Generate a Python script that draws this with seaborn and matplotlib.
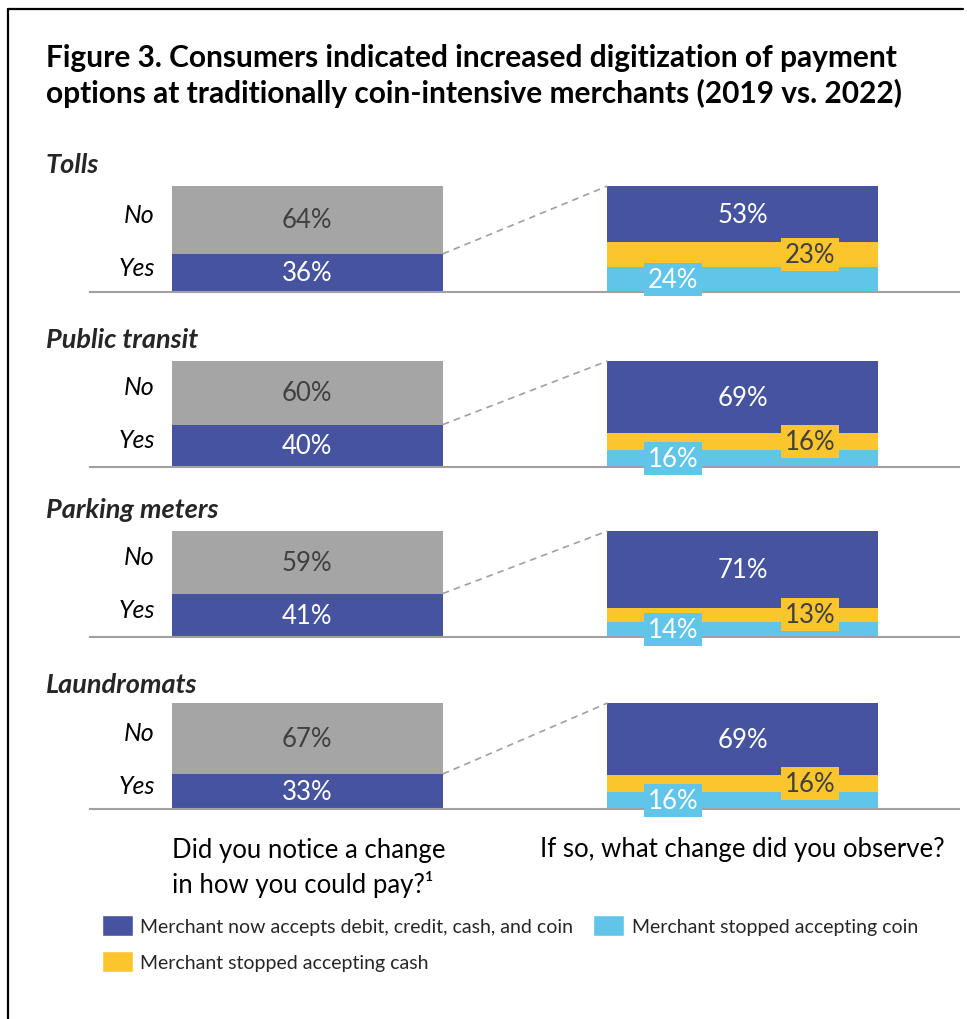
import matplotlib
matplotlib.use("Agg")
import matplotlib.pyplot as plt
from matplotlib.lines import Line2D
from matplotlib.patches import Patch
import pandas as pd
import seaborn as sns

# values
merchants = ["Tolls", "Public transit", "Parking meters", "Laundromats"]
noticed_no = [64, 60, 59, 67]
noticed_yes = [36, 40, 41, 33]
accepts_all = [53, 69, 71, 69]
stopped_cash = [23, 16, 13, 16]
stopped_coin = [24, 16, 14, 16]

title = ("Figure 3. Consumers indicated increased digitization of payment\n"
         "options at traditionally coin-intensive merchants (2019 vs. 2022)")
question_left = "Did you notice a change\nin how you could pay?¹"
question_right = "If so, what change did you observe?"
legend_labels = ["Merchant now accepts debit, credit, cash, and coin",
                 "Merchant stopped accepting cash",
                 "Merchant stopped accepting coin"]

BLUE = "#4654A0"
GRAY = "#A5A5A5"
YELLOW = "#FBC52D"
CYAN = "#60C5E8"
DARK = "#404040"

W, H = 967, 1020
sns.set_theme(style="white")
plt.rcParams["font.family"] = ["Lato", "DejaVu Sans"]

fig = plt.figure(figsize=(W / 100, H / 100), dpi=100)


def fx(px):
    return px / W


def fy(py):
    return 1 - py / H


panel_tops = [187, 362, 532, 704]
title_ys = [165, 340, 510, 685]
panel_h = 106
order = ["noticed", "observed"]
bar_w = 0.622

fig.text(fx(46), fy(76), title, fontsize=21.5, fontweight="bold",
         va="center", ha="left", linespacing=1.26, color="black")

for i, name in enumerate(merchants):
    top = panel_tops[i]
    ax = fig.add_axes([fx(90), fy(top + panel_h), fx(959) - fx(90), panel_h / H])

    total = accepts_all[i] + stopped_cash[i] + stopped_coin[i]
    coin_h = stopped_coin[i] / total * 100
    cash_h = coin_h + stopped_cash[i] / total * 100

    # layered cumulative bars, tallest first
    layers = [
        (pd.DataFrame({"q": order, "v": [100, 100]}),
         {"noticed": GRAY, "observed": BLUE}),
        (pd.DataFrame({"q": order, "v": [noticed_yes[i], cash_h]}),
         {"noticed": BLUE, "observed": YELLOW}),
        (pd.DataFrame({"q": ["observed"], "v": [coin_h]}),
         {"observed": CYAN}),
    ]
    for df, pal in layers:
        sns.barplot(data=df, x="q", y="v", hue="q", order=order,
                    hue_order=list(pal), palette=pal, width=bar_w,
                    saturation=1, linewidth=0, legend=False, ax=ax)

    ax.set_xlim(-0.499, 1.496)
    ax.set_ylim(0, 100)
    ax.set_xlabel("")
    ax.set_ylabel("")
    ax.set_xticks([])
    ax.set_yticks([])
    for side in ["top", "left", "right"]:
        ax.spines[side].set_visible(False)
    ax.spines["bottom"].set_color("#A0A0A0")
    ax.spines["bottom"].set_linewidth(1.5)

    # connector from "Yes" to the breakdown bar
    ax.plot([bar_w / 2, 1 - bar_w / 2], [noticed_yes[i], 100],
            ls=(0, (4, 3)), color="#A0A0A0", lw=1.2, clip_on=False)

    yes = noticed_yes[i]
    ax.text(0, yes + noticed_no[i] / 2, f"{noticed_no[i]}%", ha="center",
            va="center", fontsize=18.5, color=DARK)
    ax.text(0, yes / 2, f"{yes}%", ha="center", va="center",
            fontsize=18.5, color="white")
    ax.text(-0.35, yes + noticed_no[i] / 2 + 5.5, "No", ha="right",
            va="center", fontsize=18, style="italic", color="black")
    ax.text(-0.35, yes / 2 + 5.5, "Yes", ha="right", va="center",
            fontsize=18, style="italic", color="black")

    ax.text(1, (cash_h + 100) / 2, f"{accepts_all[i]}%", ha="center",
            va="center", fontsize=18.5, color="white")
    ax.text(1.154, (coin_h + cash_h) / 2, f"{stopped_cash[i]}%",
            ha="center", va="center", fontsize=18.5, color=DARK,
            bbox=dict(boxstyle="square,pad=0.15", fc=YELLOW, ec="none"))
    ax.text(0.84, coin_h / 2, f"{stopped_coin[i]}%", ha="center",
            va="center", fontsize=18.5, color="white",
            bbox=dict(boxstyle="square,pad=0.15", fc=CYAN, ec="none"))

    fig.text(fx(46), fy(title_ys[i]), name, fontsize=19.5,
             fontweight="bold", style="italic", va="center", ha="left")

fig.text(fx(172), fy(868), question_left, ha="left", va="center",
         fontsize=18.5, linespacing=1.4, color="black")
fig.text(fx(742), fy(850), question_right, ha="center", va="center",
         fontsize=18.5, color="black")

handles = [Patch(facecolor=BLUE), Patch(facecolor=YELLOW), Patch(facecolor=CYAN)]
fig.legend(handles=handles, labels=legend_labels, ncol=2, loc="upper left",
           bbox_to_anchor=(fx(86), fy(900)), frameon=False, fontsize=14,
           handlelength=1.6, handleheight=1.3, handletextpad=0.4,
           columnspacing=1.0, labelspacing=0.78, borderpad=0.3)

# frame around the figure
fig.add_artist(Line2D([fx(8), fx(8)], [fy(10), 0], color="black", lw=1.6))
fig.add_artist(Line2D([fx(8), fx(963)], [fy(10), fy(10)], color="black", lw=1.6))

fig.savefig("out.png", dpi=100)
